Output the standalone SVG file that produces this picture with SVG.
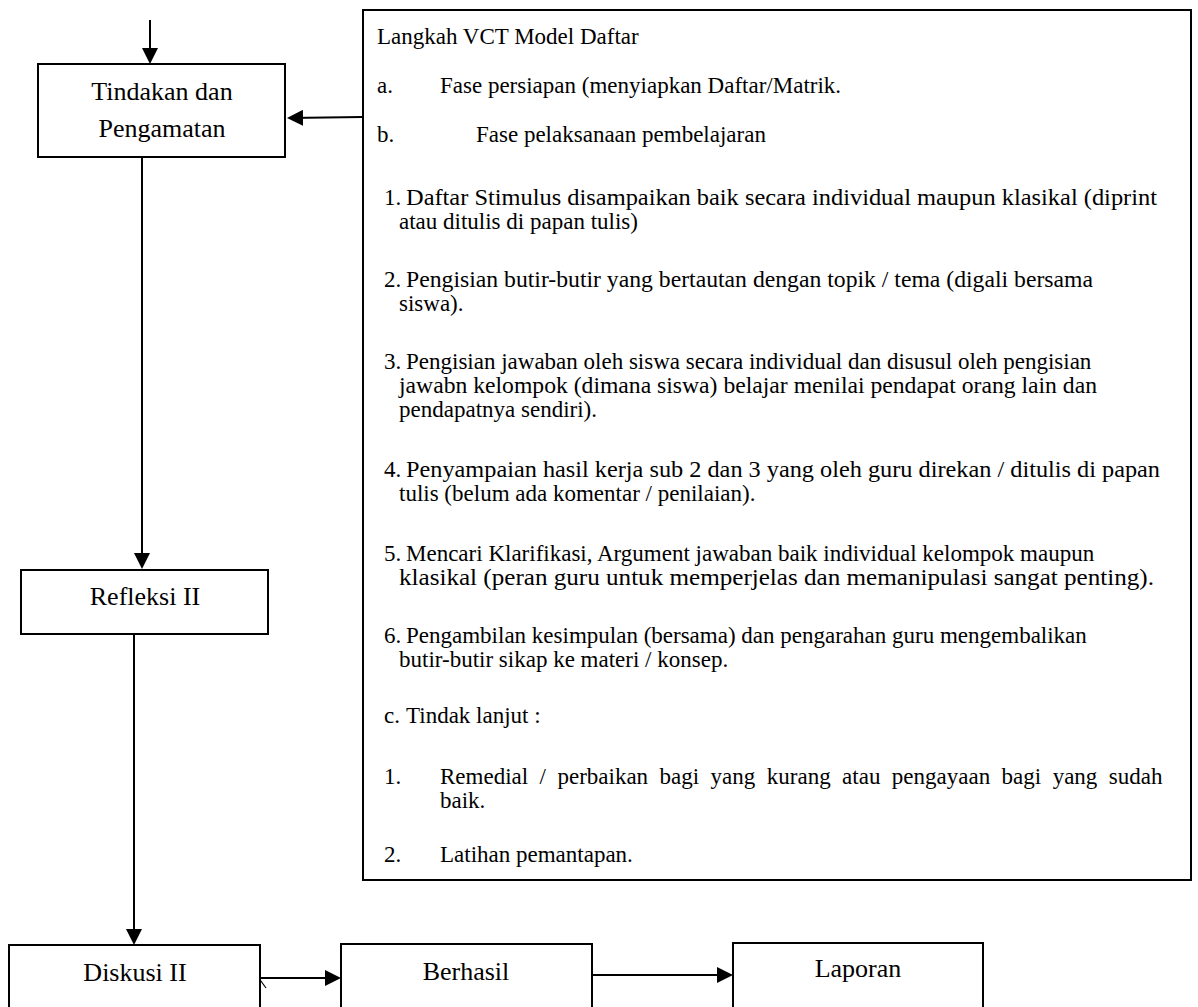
<svg xmlns="http://www.w3.org/2000/svg" width="1198" height="1007" viewBox="0 0 1198 1007">
<style>
.box{fill:#fff;stroke:#000;stroke-width:2}
.lbl{font-size:26px;fill:#000;text-anchor:middle}
.t{font-size:23px;fill:#000}
.c{stroke:#000;stroke-width:2;fill:none}
</style>
<defs>
<marker id="ah" markerWidth="16" markerHeight="16" refX="14" refY="8" orient="auto" markerUnits="userSpaceOnUse">
<path d="M0,0 L16,8 L0,16 Z" fill="#000"/>
</marker>
</defs>
<rect width="1198" height="1007" fill="#fff"/>
<g id="connectors">
<line class="c" x1="150" y1="20" x2="150" y2="62" marker-end="url(#ah)"/>
<line class="c" x1="362" y1="117" x2="289" y2="118" marker-end="url(#ah)"/>
<line class="c" x1="142" y1="158" x2="142" y2="567" marker-end="url(#ah)"/>
<line class="c" x1="134" y1="635" x2="134" y2="943" marker-end="url(#ah)"/>
<line class="c" x1="260" y1="978" x2="339" y2="978" marker-end="url(#ah)"/>
<line class="c" x1="258" y1="977" x2="266" y2="988" style="stroke-width:1.2"/>
<line class="c" x1="592" y1="975" x2="731" y2="975" marker-end="url(#ah)"/>
</g>
<g font-family="'Liberation Serif', 'Times New Roman', Tinos, serif">
<g id="tindakan">
<rect class="box" x="38" y="64" width="247" height="93"/>
<text class="lbl" x="162" y="100">Tindakan dan</text>
<text class="lbl" x="162" y="137">Pengamatan</text>
</g>
<g id="refleksi">
<rect class="box" x="21" y="570" width="247" height="64"/>
<text class="lbl" x="145" y="605">Refleksi II</text>
</g>
<g id="diskusi">
<rect class="box" x="9" y="945" width="251" height="70"/>
<text class="lbl" x="135" y="981">Diskusi II</text>
</g>
<g id="berhasil">
<rect class="box" x="341" y="944" width="251" height="70"/>
<text class="lbl" x="466" y="980">Berhasil</text>
</g>
<g id="laporan">
<rect class="box" x="733" y="943" width="250" height="70"/>
<text class="lbl" x="858" y="977">Laporan</text>
</g>
<g id="langkah">
<rect class="box" x="363" y="10" width="828" height="870"/>
<text class="t" x="377" y="44">Langkah VCT Model Daftar</text>
<text class="t" x="377" y="93">a.</text><text class="t" x="440" y="93">Fase persiapan (menyiapkan Daftar/Matrik.</text>
<text class="t" x="377" y="142">b.</text><text class="t" x="476" y="142">Fase pelaksanaan pembelajaran</text>
<text class="t" x="384" y="205">1.</text><text class="t" x="406" y="205" textLength="751" lengthAdjust="spacingAndGlyphs">Daftar Stimulus disampaikan baik secara individual maupun klasikal (diprint</text>
<text class="t" x="399" y="229">atau ditulis di papan tulis)</text>
<text class="t" x="384" y="287">2.</text><text class="t" x="406" y="287" textLength="687" lengthAdjust="spacingAndGlyphs">Pengisian butir-butir yang bertautan dengan topik / tema (digali bersama</text>
<text class="t" x="399" y="311">siswa).</text>
<text class="t" x="384" y="369">3.</text><text class="t" x="406" y="369">Pengisian jawaban oleh siswa secara individual dan disusul oleh pengisian</text>
<text class="t" x="399" y="393" textLength="698" lengthAdjust="spacingAndGlyphs">jawabn kelompok (dimana siswa) belajar menilai pendapat orang lain dan</text>
<text class="t" x="399" y="417">pendapatnya sendiri).</text>
<text class="t" x="384" y="477">4.</text><text class="t" x="406" y="477" textLength="754" lengthAdjust="spacingAndGlyphs">Penyampaian hasil kerja sub 2 dan 3 yang oleh guru direkan / ditulis di papan</text>
<text class="t" x="399" y="501">tulis (belum ada komentar / penilaian).</text>
<text class="t" x="384" y="561">5.</text><text class="t" x="406" y="561">Mencari Klarifikasi, Argument jawaban baik individual kelompok maupun</text>
<text class="t" x="399" y="585" textLength="755" lengthAdjust="spacingAndGlyphs">klasikal (peran guru untuk memperjelas dan memanipulasi sangat penting).</text>
<text class="t" x="384" y="643">6.</text><text class="t" x="406" y="643">Pengambilan kesimpulan (bersama) dan pengarahan guru mengembalikan</text>
<text class="t" x="399" y="667">butir-butir sikap ke materi / konsep.</text>
<text class="t" x="384" y="723">c.</text><text class="t" x="406" y="723">Tindak lanjut :</text>
<text class="t" x="384" y="784">1.</text><text class="t" x="440" y="784" word-spacing="5.7">Remedial / perbaikan bagi yang kurang atau pengayaan bagi yang sudah</text>
<text class="t" x="440" y="808">baik.</text>
<text class="t" x="384" y="862">2.</text><text class="t" x="440" y="862">Latihan pemantapan.</text>
</g>
</g>
</svg>
